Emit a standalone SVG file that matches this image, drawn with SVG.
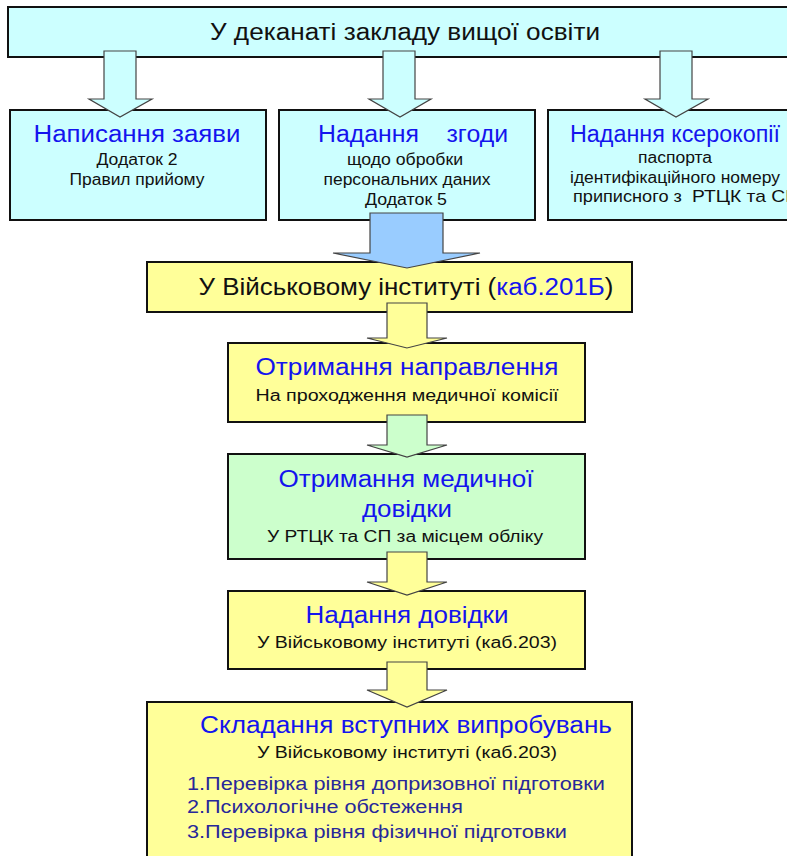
<svg xmlns="http://www.w3.org/2000/svg" width="787" height="856" viewBox="0 0 787 856">
<style>
text{font-family:"Liberation Sans",Arial,sans-serif;text-anchor:middle}
.box{stroke:#111;stroke-width:2}
.cy{fill:#CCFFFF}.ye{fill:#FFFF99}.gr{fill:#CCFFCC}.bl{fill:#99CCFF}
.arr{stroke:#444;stroke-width:1.2;stroke-linejoin:miter}
.t{font-size:23px;fill:#1414EE}
.h{font-size:23px;fill:#111}
.s{font-size:16px;fill:#111}
.l{font-size:18px;fill:#28289A;text-anchor:start}
</style>
<rect width="787" height="856" fill="#fff"/>
<g id="nodes">
<g id="dekanat"><rect class="box cy" x="8" y="7" width="790" height="50"/>
<text class="h" x="405" y="40" textLength="390" lengthAdjust="spacingAndGlyphs">У деканаті закладу вищої освіти</text></g>
<g id="zayava"><rect class="box cy" x="10" y="110" width="256" height="110"/>
<text class="t" x="137" y="142" textLength="207" lengthAdjust="spacingAndGlyphs">Написання заяви</text>
<text class="s" x="137" y="165" textLength="81" lengthAdjust="spacingAndGlyphs">Додаток 2</text>
<text class="s" x="137" y="185" textLength="135" lengthAdjust="spacingAndGlyphs">Правил прийому</text></g>
<g id="zgoda"><rect class="box cy" x="279" y="110" width="256" height="110"/>
<text class="t" x="413" y="142" textLength="190" lengthAdjust="spacingAndGlyphs" xml:space="preserve">Надання    згоди</text>
<text class="s" x="405" y="165" textLength="116" lengthAdjust="spacingAndGlyphs">щодо обробки</text>
<text class="s" x="407" y="185" textLength="167" lengthAdjust="spacingAndGlyphs">персональних даних</text>
<text class="s" x="406" y="205" textLength="82" lengthAdjust="spacingAndGlyphs">Додаток 5</text></g>
<g id="kserokopiya"><rect class="box cy" x="548" y="110" width="260" height="110"/>
<text class="t" x="675" y="142" textLength="210" lengthAdjust="spacingAndGlyphs">Надання ксерокопії</text>
<text class="s" x="675" y="163" textLength="74" lengthAdjust="spacingAndGlyphs">паспорта</text>
<text class="s" x="675" y="183" textLength="210" lengthAdjust="spacingAndGlyphs">ідентифікаційного номеру</text>
<text class="s" x="573" y="202" style="text-anchor:start" textLength="226" lengthAdjust="spacingAndGlyphs" xml:space="preserve">приписного з  <tspan style="font-size:17px">РТЦК та СП</tspan></text></g>
<g id="vi201"><rect class="box ye" x="147" y="262" width="485" height="50"/>
<text class="h" x="406" y="295" textLength="415" lengthAdjust="spacingAndGlyphs">У Військовому інституті (<tspan fill="#1414EE">каб.201Б</tspan>)</text></g>
<g id="napravlennya"><rect class="box ye" x="228" y="343" width="357" height="79"/>
<text class="t" x="407" y="375" textLength="303" lengthAdjust="spacingAndGlyphs">Отримання направлення</text>
<text class="s" x="407" y="401" textLength="303" lengthAdjust="spacingAndGlyphs">На проходження медичної комісії</text></g>
<g id="medDovidka"><rect class="box gr" x="228" y="454" width="357" height="105"/>
<text class="t" x="406" y="487" textLength="255" lengthAdjust="spacingAndGlyphs">Отримання медичної</text>
<text class="t" x="407" y="517" textLength="90" lengthAdjust="spacingAndGlyphs">довідки</text>
<text class="s" x="405" y="542" textLength="276" lengthAdjust="spacingAndGlyphs">У РТЦК та СП за місцем обліку</text></g>
<g id="nadannyaDovidky"><rect class="box ye" x="228" y="591" width="357" height="78"/>
<text class="t" x="407" y="623" textLength="203" lengthAdjust="spacingAndGlyphs">Надання довідки</text>
<text class="s" x="407" y="648" textLength="300" lengthAdjust="spacingAndGlyphs">У Військовому інституті (каб.203)</text></g>
<g id="vyprobuvannya"><rect class="box ye" x="147" y="702" width="485" height="170"/>
<text class="t" x="406" y="733" textLength="412" lengthAdjust="spacingAndGlyphs">Складання вступних випробувань</text>
<text class="s" x="407" y="758" textLength="300" lengthAdjust="spacingAndGlyphs">У Військовому інституті (каб.203)</text>
<text class="l" x="187" y="790" textLength="418" lengthAdjust="spacingAndGlyphs">1.Перевірка рівня допризовної підготовки</text>
<text class="l" x="187" y="813" textLength="276" lengthAdjust="spacingAndGlyphs">2.Психологічне обстеження</text>
<text class="l" x="187" y="838" textLength="380" lengthAdjust="spacingAndGlyphs">3.Перевірка рівня фізичної підготовки</text></g>
</g>
<g id="connectors">
<polygon class="arr cy" points="104,51 136,51 136,99 152,99 120,117 89,99 104,99"/>
<polygon class="arr cy" points="383,51 415,51 415,99 431,99 400,117 369,99 383,99"/>
<polygon class="arr cy" points="660,51 692,51 692,99 708,99 676,117 645,99 660,99"/>
<polygon class="arr bl" points="370,213 443,213 443,253 480,253 407,268 333,253 370,253"/>
<polygon class="arr ye" points="387,303 427,303 427,338 447,338 407,348 367,338 387,338"/>
<polygon class="arr gr" points="387,415 427,415 427,445 447,445 407,457 367,445 387,445"/>
<polygon class="arr ye" points="387,552 427,552 427,582 447,582 407,595 367,582 387,582"/>
<polygon class="arr ye" points="387,662 427,662 427,690 447,690 407,707 367,690 387,690"/>
</g>
</svg>
